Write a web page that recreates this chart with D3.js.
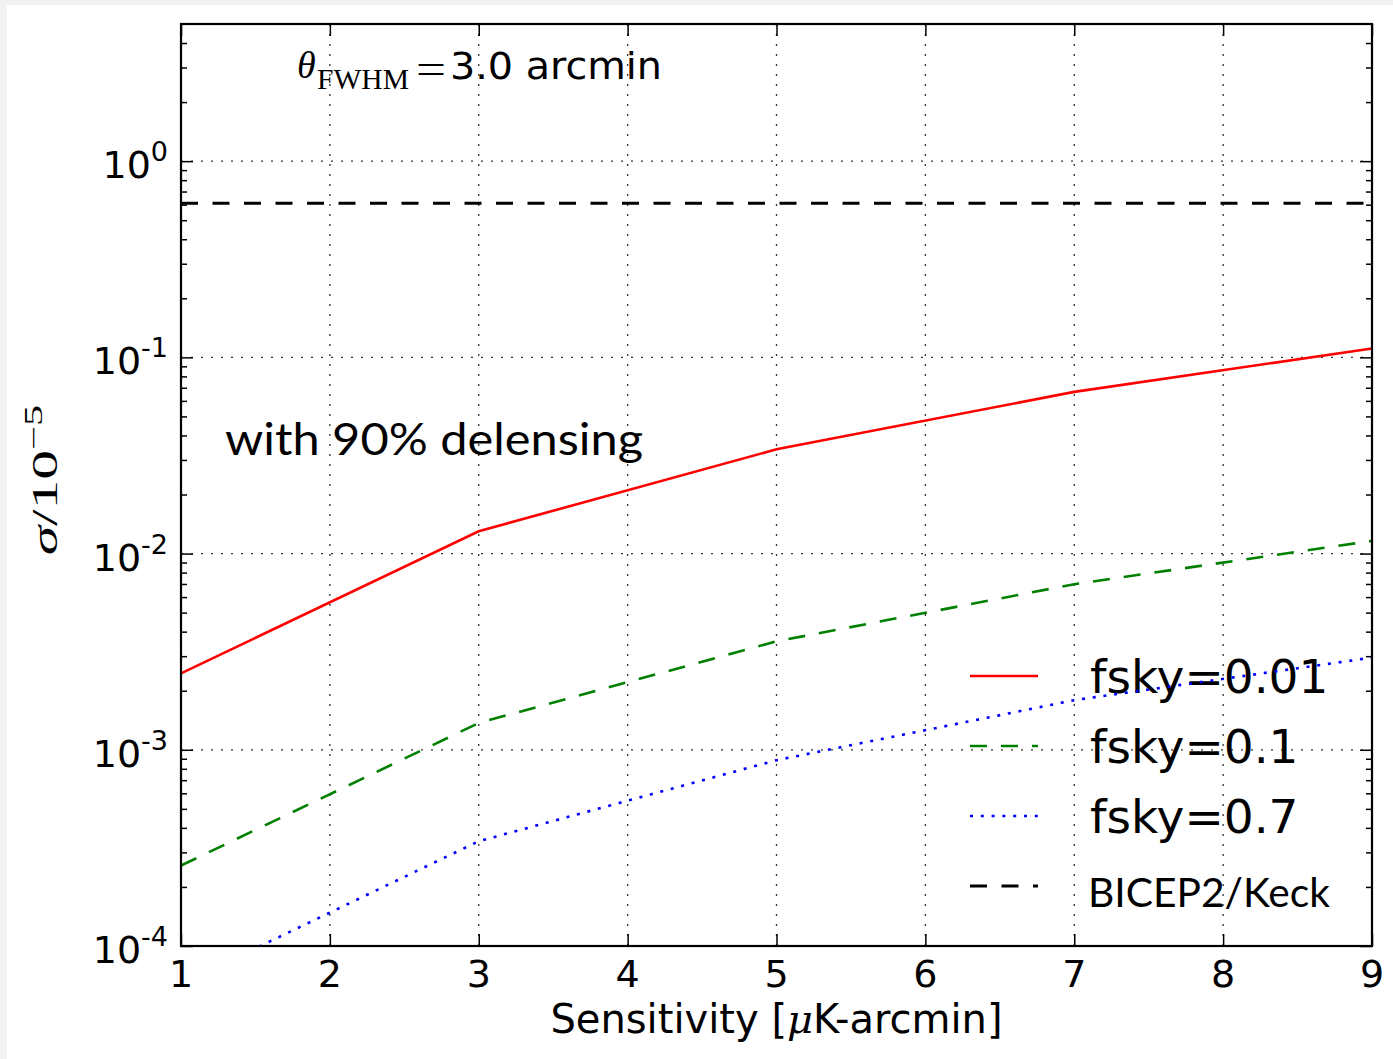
<!DOCTYPE html>
<html><head><meta charset="utf-8">
<script src="https://cdn.jsdelivr.net/npm/d3@7"></script>
<style>body{margin:0;background:#f2f2f2;} svg{display:block}</style>
</head><body><svg id="c" width="1393" height="1059"></svg>
<script>
// ---- data ----
const sensitivity = [1, 3, 5, 7, 9];
const fsky001 = [0.00245, 0.0130, 0.034, 0.0667, 0.111];
const fsky01  = [0.000257, 0.00137, 0.00357, 0.00698, 0.0116];
const fsky07  = [0.000064, 0.000342, 0.000885, 0.00179, 0.00295];
const bicepLevel = 0.61;
const seriesLabels = ["fsky=0.01", "fsky=0.1", "fsky=0.7"];
const bicepLabel = "BICEP2/Keck";
const xTickValues = [1, 2, 3, 4, 5, 6, 7, 8, 9];
const yMajorTicks = [1e-4, 1e-3, 1e-2, 1e-1, 1];
const yTickExponents = ["-4", "-3", "-2", "-1", "0"];
const xDomain = [1, 9];
const yDomain = [1e-4, 5];

// ---- layout ----
const L = 181, R = 1372, T = 24, B = 946;
const svg = d3.select("#c");
svg.append("rect").attr("x", 7).attr("y", 5).attr("width", 1393 - 7).attr("height", 1059 - 5).attr("fill", "#fff");

const x = d3.scaleLinear().domain(xDomain).range([L, R]);
const y = d3.scaleLog().domain(yDomain).range([B, T]);

// minor y ticks
const yMinor = [];
for (let e = -4; e <= 0; e++) for (let m = 2; m <= 9; m++) { const v = m * Math.pow(10, e); if (v < yDomain[1]) yMinor.push(v); }

// grid
const grid = svg.append("g").attr("stroke", "#333").attr("stroke-width", 1.3).attr("stroke-dasharray", "2,8");
grid.selectAll("line.v").data(xTickValues.filter(d => d > xDomain[0] && d < xDomain[1])).join("line")
  .attr("x1", d => x(d)).attr("x2", d => x(d)).attr("y1", T).attr("y2", B);
grid.selectAll("line.h").data(yMajorTicks).join("line")
  .attr("y1", d => y(d)).attr("y2", d => y(d)).attr("x1", L).attr("x2", R);

// axes (inward ticks)
function styleAxis(g) { g.select(".domain").remove(); g.selectAll("line").attr("stroke", "#000").attr("stroke-width", 1.5); g.selectAll("text").remove(); }
svg.append("g").attr("transform", `translate(0,${B})`).call(d3.axisBottom(x).tickValues(xTickValues).tickSize(-12).tickFormat("")).call(styleAxis);
svg.append("g").attr("transform", `translate(0,${T})`).call(d3.axisTop(x).tickValues(xTickValues).tickSize(-12).tickFormat("")).call(styleAxis);
svg.append("g").attr("transform", `translate(${L},0)`).call(d3.axisLeft(y).tickValues(yMajorTicks).tickSize(-12).tickFormat("")).call(styleAxis);
svg.append("g").attr("transform", `translate(${L},0)`).call(d3.axisLeft(y).tickValues(yMinor).tickSize(-6).tickFormat("")).call(styleAxis);
svg.append("g").attr("transform", `translate(${R},0)`).call(d3.axisRight(y).tickValues(yMajorTicks).tickSize(-12).tickFormat("")).call(styleAxis);
svg.append("g").attr("transform", `translate(${R},0)`).call(d3.axisRight(y).tickValues(yMinor).tickSize(-6).tickFormat("")).call(styleAxis);

// tick labels
const tickFont = "'DejaVu Sans', sans-serif";
svg.append("g").selectAll("text").data(xTickValues).join("text")
  .attr("x", d => x(d)).attr("y", B + 41).attr("text-anchor", "middle")
  .attr("font-family", tickFont).attr("font-size", 38).attr("fill", "#000").text(d => d);
const yl = svg.append("g").selectAll("text").data(yMajorTicks).join("text")
  .attr("x", L - 13).attr("y", d => y(d) + 17).attr("text-anchor", "end")
  .attr("font-family", tickFont).attr("font-size", 38).attr("fill", "#000");
yl.append("tspan").text("10");
yl.append("tspan").attr("dy", -17).attr("font-size", 27).text((d, i) => yTickExponents[i]);

// axis labels
svg.append("text").attr("x", (L + R) / 2).attr("y", 1033).attr("text-anchor", "middle")
  .attr("font-family", tickFont).attr("font-size", 40).attr("fill", "#000")
  .call(t => { t.append("tspan").text("Sensitivity ["); t.append("tspan").attr("font-family", "'DejaVu Serif', serif").attr("font-style", "italic").text("μ"); t.append("tspan").text("K-arcmin]"); });

const ylab = svg.append("text").attr("transform", "translate(57,480) rotate(-90) scale(1.7,1)")
  .attr("text-anchor", "middle").attr("font-family", "'Liberation Serif', serif").attr("font-size", 35).attr("fill", "#000");
ylab.append("tspan").attr("font-style", "italic").text("σ");
ylab.append("tspan").text("/10");
ylab.append("tspan").attr("dy", -15).attr("font-size", 25).text("−5");

// annotations
const ann = svg.append("g").attr("fill", "#000");
ann.append("text").attr("x", 297).attr("y", 78).attr("font-family", "'Liberation Serif', serif").attr("font-style", "italic").attr("font-size", 38).text("θ");
ann.append("text").attr("x", 317).attr("y", 89).attr("font-family", "'Liberation Serif', serif").attr("font-size", 30).attr("textLength", 92).attr("lengthAdjust", "spacingAndGlyphs").text("FWHM");
ann.append("text").attr("x", 416).attr("y", 83).attr("font-family", "'Liberation Serif', serif").attr("font-size", 42).attr("textLength", 30).attr("lengthAdjust", "spacingAndGlyphs").text("=");
ann.append("text").attr("x", 450).attr("y", 79).attr("font-family", tickFont).attr("font-size", 38).attr("textLength", 212).attr("lengthAdjust", "spacingAndGlyphs").text("3.0 arcmin");
ann.append("text").attr("x", 225).attr("y", 455).attr("font-family", "Lato, sans-serif").attr("font-size", 45).attr("textLength", 418).attr("lengthAdjust", "spacingAndGlyphs").text("with 90% delensing");

// legend text
const legendRows = [676, 746, 816, 886];
const legText = svg.append("g").attr("fill", "#000");
legText.selectAll("text").data(seriesLabels).join("text")
  .attr("x", 1090).attr("y", (d, i) => legendRows[i] + 17).attr("font-family", tickFont).attr("font-size", 47).text(d => d);
legText.append("text").attr("x", 1088).attr("y", 907).attr("font-family", "Lato, sans-serif").attr("font-size", 41)
  .attr("textLength", 242).attr("lengthAdjust", "spacingAndGlyphs").text(bicepLabel);

// data lines
svg.append("clipPath").attr("id", "clip").append("rect").attr("x", L).attr("y", T).attr("width", R - L).attr("height", B - T);
const plot = svg.append("g").attr("clip-path", "url(#clip)");
const line = d3.line().x((d, i) => x(sensitivity[i])).y(d => y(d));
const styles = [
  { data: fsky001, color: "#ff0000", dash: null },
  { data: fsky01, color: "#008000", dash: "17,14" },
  { data: fsky07, color: "#0000ff", dash: "3,7.8" }
];
styles.forEach(s => {
  plot.append("path").datum(s.data).attr("d", line).attr("fill", "none").attr("stroke", s.color)
    .attr("stroke-width", 2.6).attr("stroke-dasharray", s.dash);
});
plot.append("line").attr("x1", x(xDomain[0])).attr("x2", x(xDomain[1])).attr("y1", y(bicepLevel)).attr("y2", y(bicepLevel))
  .attr("stroke", "#000").attr("stroke-width", 3).attr("stroke-dasharray", "17,14.5");

// legend lines
const legLines = svg.append("g");
styles.forEach((s, i) => {
  legLines.append("line").attr("x1", 970).attr("x2", 1038).attr("y1", legendRows[i]).attr("y2", legendRows[i])
    .attr("stroke", s.color).attr("stroke-width", 2.6).attr("stroke-dasharray", s.dash);
});
legLines.append("line").attr("x1", 970).attr("x2", 1038).attr("y1", legendRows[3]).attr("y2", legendRows[3])
  .attr("stroke", "#000").attr("stroke-width", 3).attr("stroke-dasharray", "17,14.5");

// frame
svg.append("rect").attr("x", L).attr("y", T).attr("width", R - L).attr("height", B - T)
  .attr("fill", "none").attr("stroke", "#000").attr("stroke-width", 2.2);
</script></body></html>
